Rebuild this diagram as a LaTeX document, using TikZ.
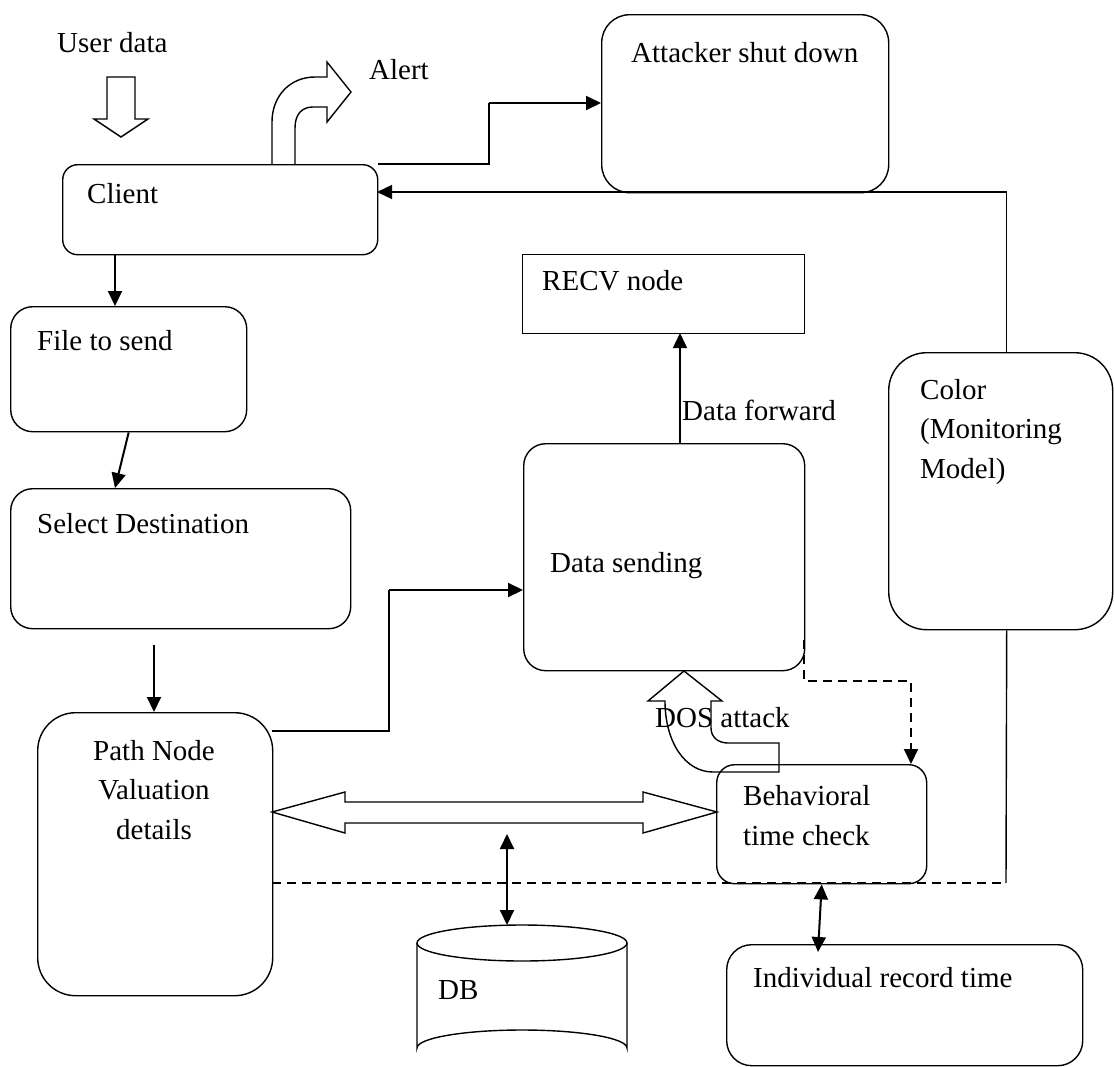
\documentclass[tikz,border=0pt]{standalone}
\usepackage{fontspec}
\setmainfont{Liberation Serif}
\usetikzlibrary{arrows.meta,calc}
\begin{document}
\begin{tikzpicture}[x=1pt,y=-1pt,
  box/.style={draw, line width=1.4pt, rounded corners=#1, inner sep=0pt, anchor=north west},
  box/.default=15pt,
  txt/.style={font=\fontsize{29}{39.5}\selectfont, inner sep=0pt, anchor=base west, align=left},
  arr/.style={line width=2pt, -{Triangle[length=15pt,width=14pt]}},
  darr/.style={line width=2pt, {Triangle[length=15pt,width=14pt]}-{Triangle[length=15pt,width=14pt]}},
  dsh/.style={line width=2pt, dash pattern=on 9pt off 6pt},
  hollow/.style={draw, line width=1.4pt, line join=miter}]
\useasboundingbox (0,0) rectangle (1114,1066);

% boxes
\node[box=15pt, minimum width=315pt, minimum height=90pt] (client) at (62,164) {};
\node[box=22pt, minimum width=236pt, minimum height=125pt] (file) at (10,306) {};
\node[box=22pt, minimum width=340pt, minimum height=140pt] (select) at (10,488) {};
\node[box=38pt, minimum width=235pt, minimum height=283pt] (path) at (37,712) {};
\node[box=28pt, minimum width=287pt, minimum height=178pt] (attacker) at (601,14) {};
\node[draw, line width=1.4pt, inner sep=0pt, anchor=north west, minimum width=282pt, minimum height=79pt] (recv) at (522,254) {};
\node[box=22pt, minimum width=281pt, minimum height=227pt] (datas) at (523,443) {};
\node[box=38pt, minimum width=224pt, minimum height=277pt] (color) at (888,352) {};
\node[box=18pt, minimum width=210pt, minimum height=119pt] (behav) at (716,764) {};
\node[box=25pt, minimum width=356pt, minimum height=121pt] (indiv) at (726,944) {};

% database cylinder
\draw[line width=1.4pt, fill=white] (417,943) -- (417,1048) arc[start angle=180, end angle=360, x radius=105, y radius=18] -- (627,943);
\draw[line width=1.4pt] (522,943) ellipse[x radius=105, y radius=18];
\coordinate (dbtop) at (507,925);

% texts
\node[txt] (tuser) at (57,52) {User data};
\node[txt] (talert) at (369,79) {Alert};
\node[txt] (tattacker) at (631,62) {Attacker shut down};
\node[txt] (tclient) at (87,203) {Client};
\node[txt] (trecv) at (542,290) {RECV node};
\node[txt] (tfwd) at (682,420) {Data forward};
\node[txt] (tfile) at (37,350) {File to send};
\node[txt] (tselect) at (37,533) {Select Destination};
\node[txt] (tdatas) at (550,572) {Data sending};
\node[txt] (tcolor) at (920,478) {Color\\(Monitoring\\Model)};
\node[txt] (tbehav) at (743,845) {Behavioral\\time check};
\node[txt] (tdb) at (438,999) {DB};
\node[txt] (tindiv) at (753,987) {Individual record time};
\node[txt, anchor=base, align=center] (tpath) at (154,839) {Path Node\\Valuation\\details};

% hollow arrows
\draw[hollow] (107,77) -- (135,77) -- (135,119) -- (148,119) -- (121,137) -- (94,119) -- (107,119) -- cycle;
\draw[hollow] (272,164) -- (272,122) .. controls (272,96) and (290,77) .. (315,77) -- (327,77) -- (327,62) -- (351,92) -- (327,122) -- (327,107) -- (313,107) .. controls (302,107) and (295,114) .. (295,128) -- (295,164);
\draw[hollow] (684,671) -- (722,701) -- (711,701) -- (711,728) .. controls (711,737) and (718,743) .. (728,743) -- (779,743) -- (779,772) -- (713,772) .. controls (685,772) and (665,742) .. (665,701) -- (648,701) -- cycle;
\draw[hollow] (272,812) -- (345,792) -- (345,802) -- (643,802) -- (643,792) -- (717,812) -- (643,833) -- (643,823) -- (345,823) -- (345,833) -- cycle;
\node[txt] (tdos) at (655,727) {DOS attack};

% connectors
\draw[arr] (115,254) -- (115,306);
\draw[arr] (file.south) -- (115,488);
\coordinate (selout) at (154,645);
\draw[arr] (selout) -- (path.north -| selout);
\draw[line width=2pt] (client.north east) -- (489,164) -- (489,103);
\draw[arr] (489,103) -- (attacker.west |- 0,103);
\coordinate (cin) at (377,192);
\coordinate (ctop) at ([xshift=6pt]color.north);
\coordinate (cbot) at ([xshift=6pt]color.south);
\draw[line width=1.4pt] (ctop) -- (ctop |- cin);
\draw[arr, line width=1.4pt] (ctop |- cin) -- (cin);
\draw[arr, line width=1.5pt] (680,443) -- (680,333);
\coordinate (pout) at (272,731);
\draw[line width=2pt] (pout) -- (389,731) -- (389,590);
\draw[arr] (389,590) -- (523,590);
\coordinate (dsr) at (804,640);
\draw[dsh] (dsr) -- (804,681) -- (911,681) -- (911,750);
\draw[arr] (911,745) -- (911,764);
\coordinate (pdash) at (272,883);
\coordinate (jn) at (1006,883);
\draw[dsh] (pdash) -- (jn);
\draw[line width=1.4pt] (cbot) -- (jn);
\coordinate (dbup) at (507,834);
\draw[darr] (dbup) -- (dbtop);
\coordinate (indtop) at (818,952);
\draw[darr] (behav.south) -- (indtop);
\end{tikzpicture}
\end{document}
